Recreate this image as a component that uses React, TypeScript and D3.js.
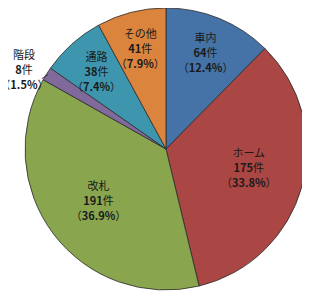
import React from "react";
import * as d3 from "d3";

const categories = ["車内", "ホーム", "改札", "階段", "通路", "その他"];
const counts = [64, 175, 191, 8, 38, 41];
const percents = ["12.4", "33.8", "36.9", "1.5", "7.4", "7.9"];
const colors = ["#4572A7", "#AA4643", "#89A54E", "#80699B", "#3D96AE", "#DB843D"];

const W = 310, H = 300;
const cx = 166, cy = 149, R = 141;

export default function App() {
  const pie = d3.pie<number>().sort(null).value((d) => d)(counts);
  const arc = d3.arc<d3.PieArcDatum<number>>().innerRadius(0).outerRadius(R);
  const total = d3.sum(counts);
  const font = "'Noto Sans CJK JP', 'Noto Sans', sans-serif";

  return (
    <div style={{ margin: -8 }}>
      <svg width={W} height={H} style={{ display: "block" }}>
        <rect width={W} height={H} fill="#fff" />
        <g transform={`translate(${cx},${cy})`}>
          {pie.map((p, i) => (
            <path key={i} d={arc(p) || ""} fill={colors[i]} stroke="#2b2b2b" strokeWidth={0.8} />
          ))}
          {pie.map((p, i) => {
            const share = p.value / total;
            const mid = (p.startAngle + p.endAngle) / 2;
            let lx: number, ly: number;
            let leader: React.ReactNode = null;
            if (share < 0.03) {
              const ax = Math.sin(mid) * R * 0.99;
              const ay = -Math.cos(mid) * R * 0.99;
              const bx = ax - 6, by = ay + 4;
              leader = <line x1={ax} y1={ay} x2={bx} y2={by} stroke="#222" strokeWidth={0.8} />;
              lx = bx - 18;
              ly = by - 10;
            } else {
              const f = share > 0.25 ? 0.6 : 0.74;
              const a = share > 0.25 && Math.sin(mid) > 0 ? mid - 0.06 : mid;
              lx = Math.sin(a) * R * f;
              ly = -Math.cos(a) * R * f;
            }
            return (
              <g key={"l" + i}>
                {leader}
                <text x={lx} y={ly} textAnchor="middle" fontFamily={font} fontSize={11} fill="#1a1a1a">
                  <tspan x={lx} y={ly - 15} dominantBaseline="central">{categories[i]}</tspan>
                  <tspan x={lx} y={ly} dominantBaseline="central">
                    <tspan fontWeight="bold">{counts[i]}</tspan>件
                  </tspan>
                  <tspan x={lx} y={ly + 15} dominantBaseline="central">
                    （<tspan fontWeight="bold">{percents[i]}%</tspan>）
                  </tspan>
                </text>
              </g>
            );
          })}
        </g>
      </svg>
    </div>
  );
}
